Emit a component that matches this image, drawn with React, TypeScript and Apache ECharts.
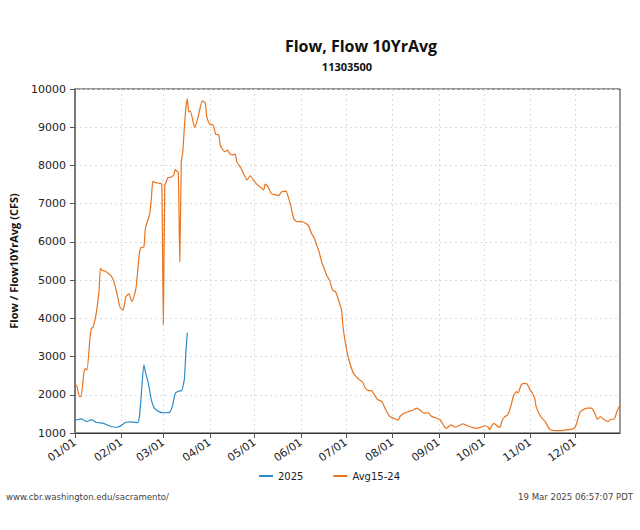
import React, { useEffect, useRef } from "react";
import * as echarts from "echarts";

const MONTH_DAYS = [31, 28, 31, 30, 31, 30, 31, 31, 30, 31, 30, 31];
const dayLabels: string[] = [];
MONTH_DAYS.forEach((n, m) => {
  for (let d = 1; d <= n; d++) {
    dayLabels.push(String(m + 1).padStart(2, "0") + "/" + String(d).padStart(2, "0"));
  }
});

const yTicks = { min: 1000, max: 10000, interval: 1000 };

// [day index, flow]
const flow2025: [number, number][] = [
  [0, 1330], [4, 1370], [8, 1300], [11, 1350], [14, 1280], [19, 1250], [24, 1170],
  [28, 1150], [31, 1200], [34, 1280], [37, 1290], [42, 1270], [43, 1420], [44, 1850],
  [46, 2780], [47, 2600], [49, 2300], [51, 1860], [53, 1650], [56, 1560], [59, 1530],
  [63, 1540], [65, 1690], [67, 2040], [70, 2100], [71, 2100], [73, 2400], [74, 3080],
  [75, 3630],
];

const avg15_24: [number, number][] = [
  [0, 2210], [1, 2250], [3, 1950], [4, 1950], [6, 2600], [7, 2690], [8, 2650], [10, 3480],
  [11, 3740], [12, 3760], [14, 4090], [16, 4700], [17, 5310], [18, 5260], [20, 5240],
  [22, 5180], [24, 5120], [26, 4960], [28, 4650], [30, 4300], [32, 4220], [33, 4350],
  [34, 4570], [36, 4640], [38, 4440], [40, 4660], [41, 4870], [43, 5700], [44, 5850],
  [46, 5870], [47, 6350], [50, 6750], [51, 7140], [52, 7590], [53, 7560], [55, 7540],
  [57, 7530], [58, 7500], [59, 3840], [60, 7490], [61, 7570], [62, 7680], [64, 7690],
  [66, 7750], [67, 7900], [68, 7850], [69, 7820], [70, 5480], [71, 8100], [72, 8360],
  [73, 8970], [74, 9490], [75, 9740], [76, 9400], [77, 9420], [80, 8990], [82, 9230],
  [83, 9400], [85, 9690], [87, 9630], [88, 9280], [90, 9080], [92, 9060], [93, 8970],
  [94, 8810], [96, 8800], [97, 8530], [100, 8360], [102, 8400], [103, 8320], [105, 8270],
  [107, 8300], [108, 8100], [111, 7920], [113, 7750], [115, 7620], [117, 7730], [120, 7570],
  [122, 7490], [124, 7430], [126, 7360], [127, 7510], [129, 7440], [131, 7270], [134, 7230],
  [136, 7210], [138, 7310], [141, 7330], [142, 7230], [144, 6960], [146, 6620], [148, 6530],
  [151, 6530], [154, 6490], [156, 6420], [158, 6220], [160, 6090], [161, 5960], [163, 5740],
  [165, 5440], [166, 5350], [168, 5130], [170, 5000], [172, 4740], [174, 4700], [176, 4480],
  [178, 4220], [179, 3780], [181, 3260], [183, 2910], [186, 2560], [190, 2390], [192, 2340],
  [194, 2170], [196, 2110], [198, 2110], [200, 2000], [202, 1880], [205, 1820], [207, 1650],
  [210, 1440], [213, 1380], [216, 1340], [217, 1430], [220, 1520], [224, 1580], [226, 1600],
  [228, 1650], [231, 1580], [233, 1520], [236, 1530], [238, 1440], [242, 1380], [244, 1340],
  [246, 1210], [248, 1120], [251, 1210], [254, 1150], [256, 1180], [259, 1240], [262, 1190],
  [265, 1150], [268, 1120], [271, 1150], [274, 1190], [276, 1150], [277, 1080], [278, 1170],
  [280, 1250], [282, 1180], [284, 1150], [285, 1300], [287, 1430], [289, 1470], [291, 1690],
  [293, 1990], [295, 2080], [296, 2050], [298, 2260], [300, 2300], [302, 2280], [304, 2120],
  [305, 2080], [307, 1910], [308, 1690], [311, 1430], [314, 1300], [317, 1100], [320, 1060],
  [324, 1060], [328, 1080], [332, 1100], [334, 1150], [335, 1250], [337, 1520], [339, 1600],
  [342, 1650], [345, 1650], [347, 1530], [349, 1360], [351, 1430], [353, 1360], [356, 1300],
  [358, 1360], [360, 1360], [362, 1560], [364, 1730],
];

const seriesNames = ["2025", "Avg15-24"];
const colors = ["#2b8bc8", "#e8731f"];

const TICK_FONT = "'DejaVu Sans', sans-serif";
const BOLD_FONT = "'Open Sans', 'DejaVu Sans', sans-serif";
const FOOT_FONT = "9.5px 'DejaVu Sans Condensed', 'DejaVu Sans', sans-serif";

export default function App() {
  const ref = useRef<HTMLDivElement>(null);
  useEffect(() => {
    if (!ref.current) return;
    const chart = echarts.init(ref.current, undefined, { renderer: "svg" });
    const isMonthStart = (_i: number, v: string) => v.endsWith("/01");
    chart.setOption({
      animation: false,
      backgroundColor: "#ffffff",
      color: colors,
      grid: {
        left: 74,
        right: 20,
        top: 89,
        bottom: 97,
        show: true,
        borderColor: "#333",
        borderWidth: 1,
        containLabel: false,
      },
      graphic: [
        {
          type: "text",
          x: 361,
          y: 46,
          style: {
            text: "Flow, Flow 10YrAvg",
            font: "bold 16px " + BOLD_FONT,
            fill: "#111",
            textAlign: "center",
            textVerticalAlign: "middle",
          },
        },
        {
          type: "text",
          x: 347,
          y: 66,
          style: {
            text: "11303500",
            font: "bold 11px " + BOLD_FONT,
            fill: "#111",
            textAlign: "center",
            textVerticalAlign: "middle",
          },
        },
        {
          type: "text",
          x: 6,
          y: 496,
          style: {
            text: "www.cbr.washington.edu/sacramento/",
            font: FOOT_FONT,
            fill: "#444",
            textAlign: "left",
            textVerticalAlign: "middle",
          },
        },
        {
          type: "text",
          x: 633,
          y: 496,
          style: {
            text: "19 Mar 2025 06:57:07 PDT",
            font: FOOT_FONT,
            fill: "#444",
            textAlign: "right",
            textVerticalAlign: "middle",
          },
        },
      ],
      legend: {
        data: seriesNames,
        left: 254,
        top: 466,
        icon: "rect",
        itemWidth: 14,
        itemHeight: 2,
        itemGap: 30,
        textStyle: { fontFamily: TICK_FONT, fontSize: 10, color: "#222" },
      },
      xAxis: {
        type: "category",
        data: dayLabels,
        boundaryGap: false,
        axisLine: { show: true, lineStyle: { color: "#333", width: 1 } },
        axisTick: { show: true, interval: isMonthStart, length: 5, lineStyle: { color: "#555" } },
        axisLabel: {
          interval: isMonthStart,
          rotate: 35,
          fontFamily: TICK_FONT,
          fontSize: 11,
          color: "#222",
          margin: 8,
        },
        splitLine: {
          show: true,
          interval: isMonthStart,
          lineStyle: { color: "#dcdcdc", type: [2, 3], width: 1 },
        },
      },
      yAxis: {
        type: "value",
        min: yTicks.min,
        max: yTicks.max,
        interval: yTicks.interval,
        name: "Flow / Flow10YrAvg (CFS)",
        nameLocation: "middle",
        nameGap: 56,
        nameTextStyle: { fontFamily: BOLD_FONT, fontWeight: "bold", fontSize: 11, color: "#111" },
        axisLine: { show: true, lineStyle: { color: "#777", width: 2 } },
        axisTick: { show: true, length: 5, lineStyle: { color: "#555" } },
        axisLabel: {
          fontFamily: TICK_FONT,
          fontSize: 11,
          color: "#222",
          margin: 9,
          formatter: (v: number) => String(v),
        },
        splitLine: { show: true, lineStyle: { color: "#dcdcdc", type: [2, 3], width: 1 } },
      },
      series: [
        {
          name: seriesNames[0],
          type: "line",
          data: flow2025,
          showSymbol: false,
          smooth: 0.2,
          lineStyle: { width: 1.2, color: colors[0] },
          z: 3,
        },
        {
          name: seriesNames[1],
          type: "line",
          data: avg15_24,
          showSymbol: false,
          smooth: 0.2,
          lineStyle: { width: 1.2, color: colors[1] },
          z: 2,
        },
      ],
    });
    return () => chart.dispose();
  }, []);
  return (
    <div
      ref={ref}
      style={{ position: "absolute", left: 0, top: 0, width: 640, height: 530 }}
    />
  );
}
